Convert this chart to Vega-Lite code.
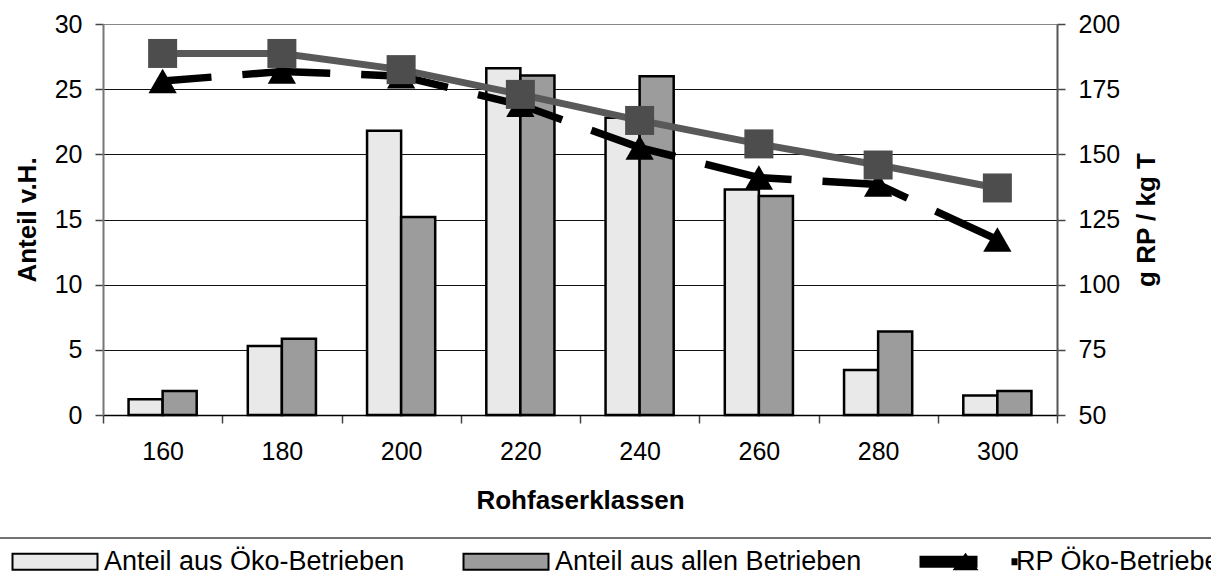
{
  "$schema": "https://vega.github.io/schema/vega-lite/v6.json",
  "width": 954,
  "height": 391,
  "autosize": {"type": "none"},
  "padding": {"left": 103, "top": 24, "right": 154, "bottom": 164},
  "background": "white",
  "config": {
    "font": "Liberation Sans",
    "view": {"stroke": null},
    "axis": {
      "labelFont": "Liberation Sans",
      "labelFontSize": 25,
      "labelColor": "black",
      "titleFont": "Liberation Sans",
      "titleFontSize": 26,
      "titleFontWeight": "bold",
      "titleColor": "black",
      "tickColor": "#444",
      "tickWidth": 1.5,
      "tickSize": 8
    }
  },
  "datasets": {
    "anteil": [
      {"Klasse": "160", "Gruppe": "Anteil aus Öko-Betrieben", "Anteil": 1.2},
      {"Klasse": "180", "Gruppe": "Anteil aus Öko-Betrieben", "Anteil": 5.3},
      {"Klasse": "200", "Gruppe": "Anteil aus Öko-Betrieben", "Anteil": 21.8},
      {"Klasse": "220", "Gruppe": "Anteil aus Öko-Betrieben", "Anteil": 26.6},
      {"Klasse": "240", "Gruppe": "Anteil aus Öko-Betrieben", "Anteil": 22.8},
      {"Klasse": "260", "Gruppe": "Anteil aus Öko-Betrieben", "Anteil": 17.3},
      {"Klasse": "280", "Gruppe": "Anteil aus Öko-Betrieben", "Anteil": 3.45},
      {"Klasse": "300", "Gruppe": "Anteil aus Öko-Betrieben", "Anteil": 1.5},
      {"Klasse": "160", "Gruppe": "Anteil aus allen Betrieben", "Anteil": 1.85},
      {"Klasse": "180", "Gruppe": "Anteil aus allen Betrieben", "Anteil": 5.85},
      {"Klasse": "200", "Gruppe": "Anteil aus allen Betrieben", "Anteil": 15.2},
      {"Klasse": "220", "Gruppe": "Anteil aus allen Betrieben", "Anteil": 26.05},
      {"Klasse": "240", "Gruppe": "Anteil aus allen Betrieben", "Anteil": 26.0},
      {"Klasse": "260", "Gruppe": "Anteil aus allen Betrieben", "Anteil": 16.8},
      {"Klasse": "280", "Gruppe": "Anteil aus allen Betrieben", "Anteil": 6.4},
      {"Klasse": "300", "Gruppe": "Anteil aus allen Betrieben", "Anteil": 1.85}
    ],
    "rp": [
      {"Klasse": "160", "Reihe": "Öko", "RP": 178.1},
      {"Klasse": "180", "Reihe": "Öko", "RP": 181.8},
      {"Klasse": "200", "Reihe": "Öko", "RP": 180.0},
      {"Klasse": "220", "Reihe": "Öko", "RP": 169.0},
      {"Klasse": "240", "Reihe": "Öko", "RP": 152.6},
      {"Klasse": "260", "Reihe": "Öko", "RP": 141.1},
      {"Klasse": "280", "Reihe": "Öko", "RP": 138.4},
      {"Klasse": "300", "Reihe": "Öko", "RP": 117.3},
      {"Klasse": "160", "Reihe": "alle", "RP": 188.7},
      {"Klasse": "180", "Reihe": "alle", "RP": 188.7},
      {"Klasse": "200", "Reihe": "alle", "RP": 182.5},
      {"Klasse": "220", "Reihe": "alle", "RP": 173.0},
      {"Klasse": "240", "Reihe": "alle", "RP": 163.0},
      {"Klasse": "260", "Reihe": "alle", "RP": 154.0},
      {"Klasse": "280", "Reihe": "alle", "RP": 145.9},
      {"Klasse": "300", "Reihe": "alle", "RP": 137.1}
    ]
  },
  "encoding": {
    "x": {
      "field": "Klasse",
      "type": "ordinal",
      "sort": ["160", "180", "200", "220", "240", "260", "280", "300"],
      "scale": {"paddingInner": 0, "paddingOuter": 0},
      "title": "Rohfaserklassen",
      "axis": {
        "labelAngle": 0,
        "tickBand": "extent",
        "domainColor": "black",
        "domainWidth": 1.5,
        "labelPadding": 16,
        "titlePadding": 23
      }
    }
  },
  "layer": [
    {
      "data": {"name": "anteil"},
      "mark": {"type": "bar", "stroke": "black", "strokeWidth": 2.5},
      "encoding": {
        "xOffset": {
          "field": "Gruppe",
          "type": "nominal",
          "scale": {
            "domain": ["Anteil aus Öko-Betrieben", "Anteil aus allen Betrieben"],
            "paddingInner": 0,
            "paddingOuter": 0.75
          }
        },
        "y": {
          "field": "Anteil",
          "type": "quantitative",
          "scale": {"domain": [0, 30], "nice": false},
          "title": "Anteil v.H.",
          "axis": {
            "values": [0, 5, 10, 15, 20, 25, 30],
            "domainColor": "#777",
            "domainWidth": 2,
            "labelPadding": 13,
            "titlePadding": 14,
            "grid": true,
            "gridColor": {"condition": {"test": "datum.value >= 30", "value": "#888"}, "value": "#111"},
            "gridWidth": 1.2
          }
        },
        "fill": {
          "field": "Gruppe",
          "type": "nominal",
          "scale": {
            "domain": ["Anteil aus Öko-Betrieben", "Anteil aus allen Betrieben", "RP Öko-Betriebe"],
            "range": ["#e9e9e9", "#9c9c9c", "black"]
          },
          "legend": {
            "orient": "none",
            "legendX": -113,
            "legendY": 514,
            "direction": "horizontal",
            "columns": 3,
            "columnPadding": 46,
            "padding": 10,
            "strokeColor": "#444",
            "title": null,
            "symbolSize": 256,
            "symbolStrokeColor": "black",
            "symbolStrokeWidth": 2,
            "symbolOpacity": 1,
            "labelFont": "Liberation Sans",
            "labelFontSize": 27,
            "labelColor": "black",
            "labelLimit": 600,
            "labelOffset": 77,
            "encode": {
              "legend": {
                "update": {
                  "strokeWidth": {"value": 1.5}
                }
              },
              "symbols": {
                "update": {
                  "shape": {
                    "signal": "datum.value === 'RP Öko-Betriebe' ? 'M-0.125,-0.625H6.875V0.625H-0.125Z M4.125,0.95L5.5,-0.9L6.875,0.95Z M11.375,-0.3H11.875V0.3H11.375Z' : 'M-0.125,-1H10.5V1H-0.125Z'"
                  }
                }
              },
              "labels": {
                "update": {
                  "dx": {"signal": "datum.value === 'RP Öko-Betriebe' ? 4 : 0"}
                }
              }
            }
          }
        }
      }
    },
    {
      "data": {"name": "rp"},
      "encoding": {
        "y": {
          "field": "RP",
          "type": "quantitative",
          "scale": {"domain": [50, 200], "nice": false},
          "title": "g RP / kg T",
          "axis": {
            "orient": "right",
            "values": [50, 75, 100, 125, 150, 175, 200],
            "grid": false,
            "domainColor": "#555",
            "domainWidth": 2,
            "labelPadding": 13,
            "titleAngle": 270,
            "titleBaseline": "top",
            "titlePadding": 14
          }
        }
      },
      "layer": [
        {
          "transform": [{"filter": "datum.Reihe === 'Öko'"}],
          "mark": {"type": "line", "color": "black", "strokeWidth": 7.5, "strokeDash": [88, 31], "strokeDashOffset": 39}
        },
        {
          "transform": [{"filter": "datum.Reihe === 'Öko'"}],
          "mark": {"type": "point", "shape": "triangle-up", "filled": true, "size": 800, "opacity": 1, "strokeWidth": 0},
          "encoding": {
            "fill": {
              "datum": "RP Öko-Betriebe",
              "type": "nominal",
              "scale": {
                "domain": ["Anteil aus Öko-Betrieben", "Anteil aus allen Betrieben", "RP Öko-Betriebe"],
                "range": ["#e9e9e9", "#9c9c9c", "black"]
              }
            }
          }
        },
        {
          "transform": [{"filter": "datum.Reihe === 'alle'"}],
          "mark": {"type": "line", "color": "#595959", "strokeWidth": 7}
        },
        {
          "transform": [{"filter": "datum.Reihe === 'alle'"}],
          "mark": {"type": "point", "shape": "square", "filled": true, "size": 841, "opacity": 1, "color": "#4d4d4d", "strokeWidth": 0}
        }
      ]
    }
  ],
  "resolve": {"scale": {"y": "independent"}}
}
